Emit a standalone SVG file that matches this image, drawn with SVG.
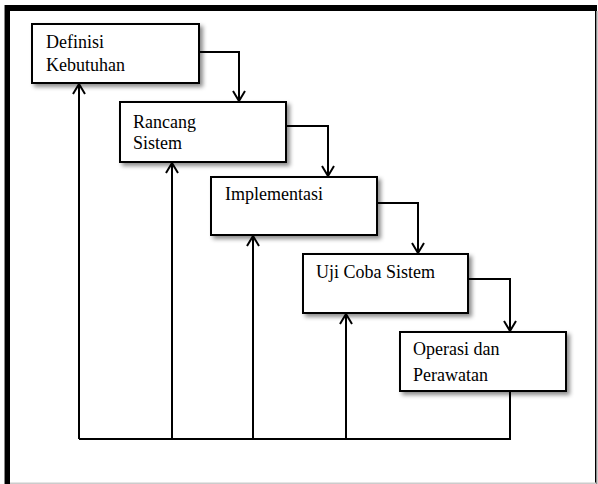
<svg xmlns="http://www.w3.org/2000/svg" width="598" height="484" viewBox="0 0 598 484">
<defs>
<style>
.box{fill:#fff;stroke:#000;stroke-width:2;filter:url(#sh)}
.lbl{font-family:"Liberation Serif","Times New Roman",serif;font-size:18px;fill:#000}
.con{fill:none;stroke:#000;stroke-width:2}
</style>
<filter id="sh" x="-10%" y="-10%" width="130%" height="140%">
<feDropShadow dx="3" dy="3" stdDeviation="2" flood-color="#000" flood-opacity="0.45"/>
</filter>
<marker id="ah" viewBox="0 0 12 14" refX="11" refY="7" markerWidth="12" markerHeight="14" markerUnits="userSpaceOnUse" orient="auto">
<path d="M1,1 L11,7 L1,13" fill="none" stroke="#000" stroke-width="2"/>
</marker>
</defs>
<rect x="0" y="0" width="598" height="484" fill="#fff"/>
<g id="frame">
<rect x="5" y="5" width="592" height="6" fill="#000"/>
<rect x="5" y="5" width="5" height="479" fill="#000"/>
<rect x="4" y="5" width="1" height="479" fill="#888"/>
<rect x="595" y="5" width="1.5" height="479" fill="#000"/>
<rect x="596.5" y="11" width="1" height="473" fill="#999"/>
<rect x="10" y="482.5" width="586" height="1.5" fill="#ccc"/>
</g>
<g id="definisi">
<rect class="box" x="32" y="24" width="167" height="59"/>
<text class="lbl" x="46" y="48">Definisi</text>
<text class="lbl" x="46" y="71">Kebutuhan</text>
</g>
<g id="rancang">
<rect class="box" x="120" y="102" width="166" height="60"/>
<text class="lbl" x="133" y="128">Rancang</text>
<text class="lbl" x="133" y="149">Sistem</text>
</g>
<g id="implementasi">
<rect class="box" x="211" y="177" width="166" height="58"/>
<text class="lbl" x="225" y="200">Implementasi</text>
</g>
<g id="ujicoba">
<rect class="box" x="303" y="254" width="165" height="59"/>
<text class="lbl" x="316" y="278">Uji Coba Sistem</text>
</g>
<g id="operasi">
<rect class="box" x="400" y="332" width="166" height="59"/>
<text class="lbl" x="413" y="355">Operasi dan</text>
<text class="lbl" x="413" y="381">Perawatan</text>
</g>
<g id="connectors">
<path class="con" d="M200,52 H239 V101" marker-end="url(#ah)"/>
<path class="con" d="M287,126 H328 V176" marker-end="url(#ah)"/>
<path class="con" d="M378,203 H418 V253" marker-end="url(#ah)"/>
<path class="con" d="M469,279 H510 V331" marker-end="url(#ah)"/>
<path class="con" d="M510,392 V439 H79"/>
<path class="con" d="M79,439 V84" marker-end="url(#ah)"/>
<path class="con" d="M172,439 V163" marker-end="url(#ah)"/>
<path class="con" d="M253,439 V236" marker-end="url(#ah)"/>
<path class="con" d="M346,439 V314" marker-end="url(#ah)"/>
</g>
</svg>
